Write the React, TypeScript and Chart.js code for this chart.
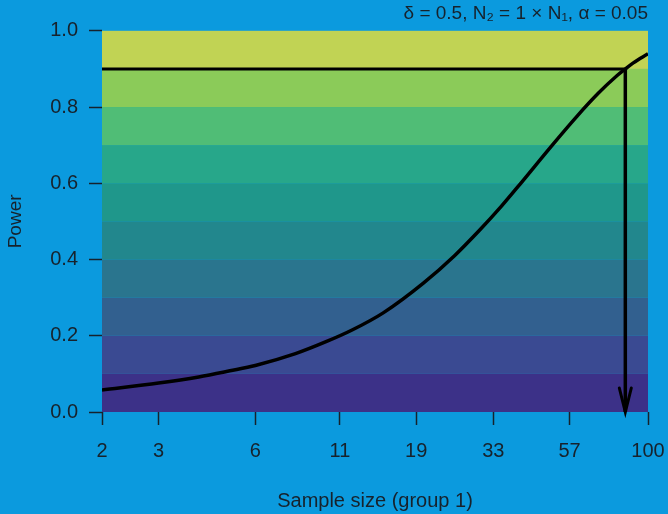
import { useEffect, useRef } from "react";
import { Chart, registerables } from "chart.js";

Chart.register(...registerables);

const sampleSizes = [2, 3, 4, 5, 6, 8, 10, 12, 15, 20, 25, 30, 35, 40, 50, 60, 70, 80, 85, 90, 100];
const powerValues = [0.058, 0.076, 0.092, 0.108, 0.122, 0.153, 0.185, 0.215, 0.26, 0.338, 0.41, 0.478, 0.54, 0.598, 0.697, 0.775, 0.836, 0.882, 0.9, 0.916, 0.94];
const xTickValues = [2, 3, 6, 11, 19, 33, 57, 100];
const yTickValues = [0, 0.2, 0.4, 0.6, 0.8, 1.0];
const bandEdges = [0, 0.1, 0.2, 0.3, 0.4, 0.5, 0.6, 0.7, 0.8, 0.9, 1.0];
const bandColors = ["#3c3188", "#3a4a92", "#32608f", "#2a758e", "#22878d", "#1f978b", "#27a78a", "#50bd76", "#8bcb59", "#c1d354"];
const targetPower = 0.9;
const targetN = 85;
const titleText = "δ = 0.5, N₂ = 1 × N₁, α = 0.05";
const xTitle = "Sample size (group 1)";
const yTitle = "Power";

const BG = "#0b9ade";
const INK = "#17222c";
const FONT = "'Liberation Sans', Arial, sans-serif";

export default function App() {
  const ref = useRef<HTMLCanvasElement | null>(null);
  useEffect(() => {
    document.body.style.margin = "0";
    const canvas = ref.current;
    if (!canvas) return;

    const bgPlugin = {
      id: "bgBands",
      beforeDraw(chart: any) {
        const { ctx, chartArea, scales } = chart;
        ctx.save();
        ctx.fillStyle = BG;
        ctx.fillRect(0, 0, chart.width, chart.height);
        const y = scales.y;
        for (let i = 0; i < bandColors.length; i++) {
          const top = y.getPixelForValue(bandEdges[i + 1]);
          const bot = y.getPixelForValue(bandEdges[i]);
          ctx.fillStyle = bandColors[i];
          ctx.fillRect(chartArea.left, top, chartArea.right - chartArea.left, bot - top);
        }
        ctx.restore();
      },
    };

    const arrowPlugin = {
      id: "arrowHead",
      afterDatasetsDraw(chart: any) {
        const { ctx, scales } = chart;
        const px = scales.x.getPixelForValue(targetN);
        const py = scales.y.getPixelForValue(0);
        ctx.save();
        ctx.strokeStyle = "#000";
        ctx.lineWidth = 3;
        ctx.lineCap = "round";
        ctx.beginPath();
        ctx.moveTo(px - 6, py - 24);
        ctx.lineTo(px, py);
        ctx.lineTo(px + 6, py - 24);
        ctx.stroke();
        ctx.restore();
      },
    };

    const chart = new Chart(canvas, {
      type: "line",
      data: {
        datasets: [
          {
            data: sampleSizes.map((n, i) => ({ x: n, y: powerValues[i] })),
            borderColor: "#000",
            borderWidth: 3.5,
            pointRadius: 0,
            cubicInterpolationMode: "monotone",
            fill: false,
          },
          {
            data: [
              { x: sampleSizes[0], y: targetPower },
              { x: targetN, y: targetPower },
            ],
            borderColor: "#000",
            borderWidth: 3,
            pointRadius: 0,
            fill: false,
          },
          {
            data: [
              { x: targetN, y: targetPower },
              { x: targetN, y: 0 },
            ],
            borderColor: "#000",
            borderWidth: 3.5,
            pointRadius: 0,
            fill: false,
          },
        ],
      },
      options: {
        responsive: false,
        animation: false,
        layout: { padding: { left: 0, right: 20, top: 0, bottom: 0 } },
        plugins: {
          legend: { display: false },
          tooltip: { enabled: false },
          title: {
            display: true,
            text: titleText,
            align: "end",
            color: INK,
            font: { family: FONT, size: 19, weight: "normal" },
            padding: { top: 2, bottom: 6 },
          },
        },
        scales: {
          x: {
            type: "logarithmic",
            min: 2,
            max: 100,
            afterBuildTicks: (scale: any) => {
              scale.ticks = xTickValues.map((v) => ({ value: v }));
            },
            afterFit: (scale: any) => {
              scale.height = 102;
              scale.paddingLeft = 0;
              scale.paddingRight = 0;
            },
            ticks: {
              autoSkip: false,
              maxRotation: 0,
              color: INK,
              padding: 14,
              font: { family: FONT, size: 20 },
              callback: (v: any) => String(v),
            },
            grid: {
              display: true,
              drawOnChartArea: false,
              drawTicks: true,
              tickLength: 13,
              tickColor: INK,
              tickWidth: 1.5,
            },
            border: { display: false },
            title: {
              display: true,
              text: xTitle,
              color: INK,
              font: { family: FONT, size: 20 },
              padding: { top: 0, bottom: 1 },
            },
          },
          y: {
            type: "linear",
            min: 0,
            max: 1,
            afterBuildTicks: (scale: any) => {
              scale.ticks = yTickValues.map((v) => ({ value: v }));
            },
            afterFit: (scale: any) => {
              scale.width = 102;
            },
            ticks: {
              color: INK,
              padding: 11,
              font: { family: FONT, size: 20 },
              callback: (v: any) => Number(v).toFixed(1),
            },
            grid: {
              display: true,
              drawOnChartArea: false,
              drawTicks: true,
              tickLength: 13,
              tickColor: INK,
              tickWidth: 1.5,
            },
            border: { display: false },
            title: {
              display: true,
              text: yTitle,
              color: INK,
              font: { family: FONT, size: 19 },
              padding: { top: 4, bottom: 4 },
            },
          },
        },
      },
      plugins: [bgPlugin, arrowPlugin],
    } as any);
    return () => chart.destroy();
  }, []);
  return (
    <div style={{ width: 668, height: 514 }}>
      <canvas ref={ref} width={668} height={514} style={{ display: "block" }} />
    </div>
  );
}
